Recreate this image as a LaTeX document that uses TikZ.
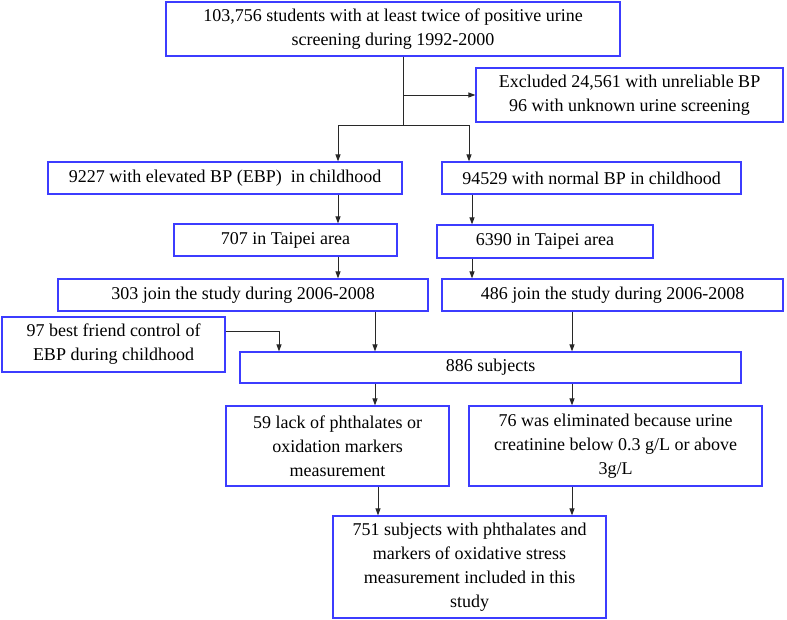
\documentclass[tikz,border=0pt]{standalone}
\usepackage{fontspec}
\setmainfont{LiberationSerif}[Extension=.ttf, UprightFont=*-Regular]
\usetikzlibrary{arrows.meta}
\definecolor{boxblue}{RGB}{60,60,255}
\definecolor{linegray}{RGB}{40,40,40}
\begin{document}
\begin{tikzpicture}[x=1pt,y=-1pt,
  box/.style={draw=boxblue, line width=1.2pt, align=center, inner sep=0pt,
    font=\rmfamily\fontsize{18}{24}\selectfont},
  conn/.style={draw=linegray, line width=1pt},
  arr/.style={conn, -{Triangle[length=7pt,width=5pt]}}]
\useasboundingbox (0,0) rectangle (787,619);

\node[box, minimum width=454pt, minimum height=54pt] (top) at (393,29)
  {103,756 students with at least twice of positive urine\\screening during 1992-2000};
\node[box, minimum width=307pt, minimum height=54pt] (excl) at (629.5,95)
  {Excluded 24,561 with unreliable BP\\96 with unknown urine screening};
\node[box, minimum width=354pt, minimum height=32pt] (ebp) at (225,178)
  {9227 with elevated BP (EBP)\ \ in childhood};
\node[box, minimum width=299pt, minimum height=32pt] (norm) at (591.5,178)
  {94529 with normal BP in childhood};
\node[box, minimum width=223pt, minimum height=32pt] (t707) at (285.5,240)
  {707 in Taipei area};
\node[box, minimum width=216pt, minimum height=33pt] (t6390) at (545,241.5)
  {6390 in Taipei area};
\node[box, minimum width=370pt, minimum height=32pt] (j303) at (243,295)
  {303 join the study during 2006-2008};
\node[box, minimum width=341pt, minimum height=32pt] (j486) at (612.5,295)
  {486 join the study during 2006-2008};
\node[box, minimum width=223pt, minimum height=55pt] (bf97) at (113.5,344.5)
  {97 best friend control of\\EBP during childhood};
\node[box, minimum width=501pt, minimum height=31pt] (s886) at (490.5,367.5)
  {886 subjects};
\node[box, minimum width=223pt, minimum height=80pt] (l59) at (337.5,446)
  {59 lack of phthalates or\\oxidation markers\\measurement};
\node[box, minimum width=293pt, minimum height=80pt] (e76) at (615.5,446)
  {76 was eliminated because urine\\creatinine below 0.3 g/L or above\\3g/L};
\node[box, minimum width=273pt, minimum height=102pt] (f751) at (469.5,567)
  {751 subjects with phthalates and\\markers of oxidative stress\\measurement included in this\\study};

% connectors
\coordinate (split) at (403,125);
\coordinate (exA) at (403,95);
\coordinate (bl) at (338,125);
\coordinate (br) at (469,125);
\coordinate (xl) at (338,0);
\coordinate (xr) at (472,0);
\coordinate (xa) at (375,0);
\coordinate (xb) at (572,0);
\coordinate (xc) at (378,0);
\coordinate (bfc) at (279,331);

\draw[conn] (top.south -| split) -- (split);
\draw[arr] (exA) -- (exA -| excl.west);
\draw[conn] (bl) -- (br);
\draw[arr] (bl) -- (bl |- ebp.north);
\draw[arr] (br) -- (br |- norm.north);
\draw[arr] (ebp.south -| xl) -- (t707.north -| xl);
\draw[arr] (norm.south -| xr) -- (t6390.north -| xr);
\draw[arr] (t707.south -| xl) -- (j303.north -| xl);
\draw[arr] (t6390.south -| xr) -- (j486.north -| xr);
\draw[arr] (j303.south -| xa) -- (s886.north -| xa);
\draw[arr] (j486.south -| xb) -- (s886.north -| xb);
\draw[arr] (bf97.east |- bfc) -- (bfc) -- (bfc |- s886.north);
\draw[arr] (s886.south -| xa) -- (l59.north -| xa);
\draw[arr] (s886.south -| xb) -- (e76.north -| xb);
\draw[arr] (l59.south -| xc) -- (f751.north -| xc);
\draw[arr] (e76.south -| xb) -- (f751.north -| xb);
\end{tikzpicture}
\end{document}
